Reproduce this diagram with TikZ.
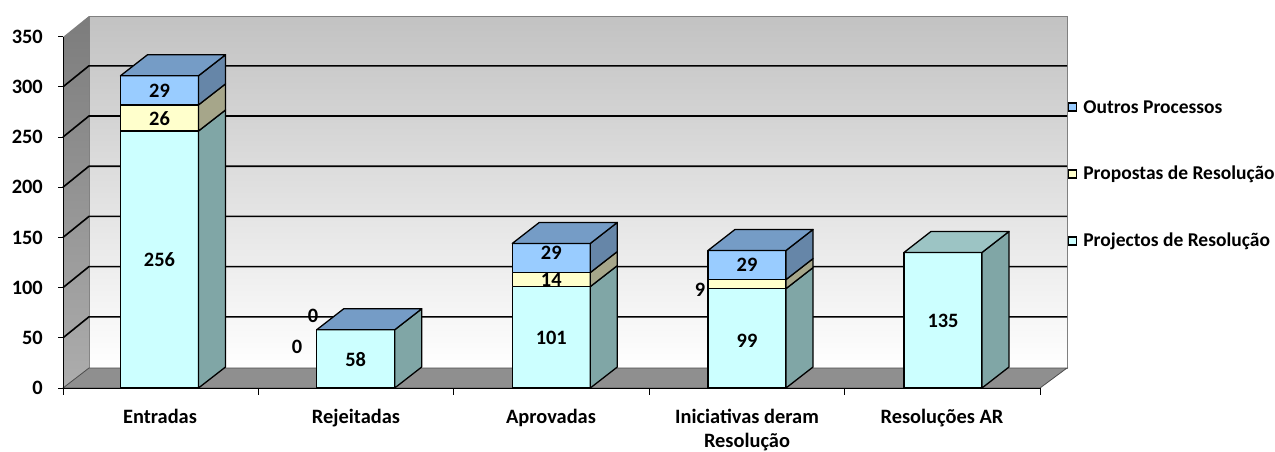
\documentclass[tikz,border=0pt]{standalone}
\usepackage{fontspec}
\setmainfont{Carlito}
\definecolor{cyanfront}{HTML}{CCFFFF}
\definecolor{cyanside}{HTML}{80A6A6}
\definecolor{cyantop}{HTML}{9CC4C4}
\definecolor{yelfront}{HTML}{FFFFCC}
\definecolor{yelside}{HTML}{A6A68A}
\definecolor{bluefront}{HTML}{99CCFF}
\definecolor{blueside}{HTML}{6686A8}
\definecolor{bluetop}{HTML}{759CC6}
\definecolor{wallgray}{HTML}{C2C2C2}
\definecolor{sidegray}{HTML}{8A8A8A}
\definecolor{floorgray}{HTML}{8F8F8F}
\tikzset{
  lbl/.style={font=\bfseries\fontsize{20.4}{23}\selectfont, inner sep=0pt},
  catlbl/.style={lbl, anchor=base, align=center, font=\bfseries\fontsize{20.4}{24.6}\selectfont},
  keylbl/.style={font=\bfseries\fontsize{19.5}{22}\selectfont, inner sep=0pt, anchor=west},
  seg/.style={draw=black, line width=1.3pt, line join=round},
  grid/.style={draw=black, line width=1.6pt},
  key/.style={draw=black, line width=1.3pt, minimum size=8pt, inner sep=0pt},
}
% value -> pixel row
\newcommand{\vy}[1]{388-1.004*(#1)}
% one stacked piece: left x, from, to, front, side
\newcommand{\barseg}[5]{%
  \filldraw[seg, fill=#4] (#1,{\vy{#2}}) rectangle (#1+78,{\vy{#3}});
  \filldraw[seg, fill=#5] (#1+78,{\vy{#2}}) -- (#1+105,{\vy{#2}-21})
    -- (#1+105,{\vy{#3}-21}) -- (#1+78,{\vy{#3}}) -- cycle;}
\newcommand{\bartop}[3]{%
  \filldraw[seg, fill=#3] (#1,{\vy{#2}}) -- ++(27,-21) -- ++(78,0) -- ++(-27,21) -- cycle;}
\begin{document}
\begin{tikzpicture}[x=1pt, y=-1pt]
    \useasboundingbox (0,0) rectangle (1275,451);
    % walls and floor
    \shade[top color=wallgray, bottom color=white, draw=gray, line width=0.8pt]
        (89,16) rectangle (1067,368);
    \shade[top color=sidegray!90!black, bottom color=sidegray!70!white]
        (63,37) -- (89,16) -- (89,368) -- (63,388) -- cycle;
    \filldraw[fill=floorgray, draw=gray!60!black, line width=0.8pt]
        (63,388) -- (89,368) -- (1067,368) -- (1040,388) -- cycle;
    \foreach \v in {50,100,...,300}
        \draw[grid] (63,{\vy{\v}}) -- (89,{\vy{\v}-21}) -- (1067,{\vy{\v}-21});
    % axes
    \draw[line width=1pt] (63,37) -- (63,388) -- (1040,388);
    \foreach \v in {0,50,...,350} {
        \draw[line width=1pt] (58,{\vy{\v}}) -- (63,{\vy{\v}});
        \node[lbl, anchor=east] at (43,{\vy{\v}}) {\v};
    }
    \foreach \i in {0,...,5}
        \draw[line width=1pt] ({63+195.4*\i},388) -- ({63+195.4*\i},395);

    % Entradas
    \barseg{120.5}{0}{256}{cyanfront}{cyanside}
    \barseg{120.5}{256}{282}{yelfront}{yelside}
    \barseg{120.5}{282}{311}{bluefront}{blueside}
    \bartop{120.5}{311}{bluetop}
    % Rejeitadas
    \barseg{316.7}{0}{58}{cyanfront}{cyanside}
    \bartop{316.7}{58}{bluetop}
    % Aprovadas
    \barseg{512.3}{0}{101}{cyanfront}{cyanside}
    \barseg{512.3}{101}{115}{yelfront}{yelside}
    \barseg{512.3}{115}{144}{bluefront}{blueside}
    \bartop{512.3}{144}{bluetop}
    % Iniciativas deram Resolucao
    \barseg{708}{0}{99}{cyanfront}{cyanside}
    \barseg{708}{99}{108}{yelfront}{yelside}
    \barseg{708}{108}{137}{bluefront}{blueside}
    \bartop{708}{137}{bluetop}
    % Resolucoes AR
    \barseg{904}{0}{135}{cyanfront}{cyanside}
    \bartop{904}{135}{cyantop}

    % data labels
    \node[lbl] (ent256) at (159.5,260) {256};
    \node[lbl] (ent26) at (159.5,119) {26};
    \node[lbl] (ent29) at (159.5,91) {29};
    \node[lbl] (rej58) at (355.7,360) {58};
    \node[lbl] (rej0a) at (297,347) {0};
    \node[lbl] (rej0b) at (313,316) {0};
    \node[lbl] (apr101) at (551.3,338) {101};
    \node[lbl] (apr14) at (551.3,280) {14};
    \node[lbl] (apr29) at (551.3,253) {29};
    \node[lbl] (ini99) at (747,341) {99};
    \node[lbl] (ini9) at (700,290) {9};
    \node[lbl] (ini29) at (747,265) {29};
    \node[lbl] (res135) at (943,321) {135};

    % categories
    \node[catlbl] (cEnt) at (160,423) {Entradas};
    \node[catlbl] (cRej) at (356,423) {Rejeitadas};
    \node[catlbl] (cApr) at (551,423) {Aprovadas};
    \node[catlbl] (cIni) at (747,447.6) {Iniciativas deram\\Resolução};
    \node[catlbl] (cRes) at (942,423) {Resoluções AR};

    % legend
    \node[key, fill=bluefront] (kOut) at (1072.5,107) {};
    \node[key, fill=yelfront] (kProp) at (1072.5,174) {};
    \node[key, fill=cyanfront] (kProj) at (1072.5,241) {};
    \node[keylbl] at ([xshift=6pt]kOut.east) {Outros Processos};
    \node[keylbl] at ([xshift=6pt]kProp.east) {Propostas de Resolução};
    \node[keylbl] at ([xshift=6pt]kProj.east) {Projectos de Resolução};
\end{tikzpicture}
\end{document}
